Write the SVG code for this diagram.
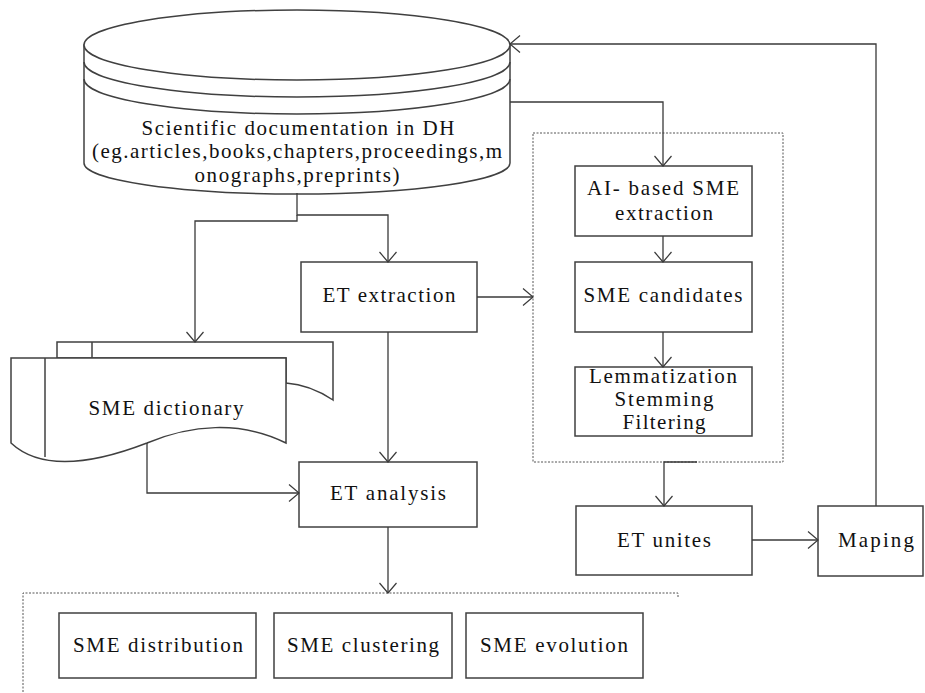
<svg xmlns="http://www.w3.org/2000/svg" width="925" height="693" viewBox="0 0 925 693">
<style>
.b{fill:#fff;stroke:#404040;stroke-width:1.5}
.s{fill:none;stroke:#404040;stroke-width:1.5}
.c{fill:none;stroke:#3a3a3a;stroke-width:1.3}
.d{fill:none;stroke:#555;stroke-width:1;stroke-dasharray:2,1.5}
text{font-family:"Liberation Serif","DejaVu Serif",serif;font-size:21px;fill:#111;text-anchor:middle}
</style>
<defs>
<marker id="a" viewBox="0 0 12 20" refX="11" refY="10" markerWidth="12" markerHeight="20" markerUnits="userSpaceOnUse" orient="auto">
<path d="M1,1.5 L11,10 L1,18.5" fill="none" stroke="#3a3a3a" stroke-width="1.2"/>
</marker>
</defs>
<rect width="925" height="693" fill="#fff"/>

<g id="group-bottom">
<path class="d" d="M678,597 V593 H23 V693"/>
</g>
<g id="group-right">
<rect class="d" x="533" y="133" width="250" height="329"/>
</g>

<g id="database">
<path class="b" d="M84,45 V163 A213,31 0 0 0 510,163 V45 Z"/>
<ellipse class="b" cx="297" cy="45" rx="213" ry="35"/>
<path class="s" d="M84,62 A213,35 0 0 0 510,62"/>
<path class="s" d="M84,79 A213,35 0 0 0 510,79"/>
<text x="298" y="135" textLength="313" lengthAdjust="spacing">Scientific documentation in DH</text>
<text x="297" y="158" textLength="410" lengthAdjust="spacing">(eg.articles,books,chapters,proceedings,m</text>
<text x="297" y="182" textLength="205" lengthAdjust="spacing">onographs,preprints)</text>
</g>

<g id="sme-dictionary">
<path class="b" d="M57,358 V342 H333 V400 C318,390 300,384 286,383 L286,358 Z"/>
<path class="s" d="M92,342 V358"/>
<path class="b" d="M11,358 H286 V443 C240,420 190,425 147,443 C90,465 40,470 11,443 Z"/>
<path class="s" d="M45,358 V457"/>
<text x="166" y="415" textLength="155" lengthAdjust="spacing">SME dictionary</text>
</g>

<g id="et-extraction">
<rect class="b" x="301" y="262" width="176" height="70"/>
<text x="389" y="302" textLength="133" lengthAdjust="spacing">ET extraction</text>
</g>

<g id="et-analysis">
<rect class="b" x="299" y="462" width="178" height="65"/>
<text x="388" y="500" textLength="116" lengthAdjust="spacing">ET analysis</text>
</g>

<g id="ai-extraction">
<rect class="b" x="575" y="166" width="177" height="70"/>
<text x="663" y="195" textLength="152" lengthAdjust="spacing">AI- based SME</text>
<text x="664" y="220" textLength="98" lengthAdjust="spacing">extraction</text>
</g>

<g id="sme-candidates">
<rect class="b" x="575" y="262" width="177" height="70"/>
<text x="663" y="302" textLength="159" lengthAdjust="spacing">SME candidates</text>
</g>

<g id="lemmatization">
<rect class="b" x="575" y="367" width="177" height="69"/>
<text x="663" y="383" textLength="148" lengthAdjust="spacing">Lemmatization</text>
<text x="664" y="406" textLength="99" lengthAdjust="spacing">Stemming</text>
<text x="664" y="429" textLength="83" lengthAdjust="spacing">Filtering</text>
</g>

<g id="et-unites">
<rect class="b" x="576" y="506" width="176" height="69"/>
<text x="664" y="547" textLength="94" lengthAdjust="spacing">ET unites</text>
</g>

<g id="maping">
<rect class="b" x="818" y="506" width="105" height="70"/>
<text x="876" y="547" textLength="76" lengthAdjust="spacing">Maping</text>
</g>

<g id="sme-distribution">
<rect class="b" x="59" y="613" width="197" height="65"/>
<text x="158" y="652" textLength="170" lengthAdjust="spacing">SME distribution</text>
</g>
<g id="sme-clustering">
<rect class="b" x="274" y="613" width="178" height="65"/>
<text x="363" y="652" textLength="152" lengthAdjust="spacing">SME clustering</text>
</g>
<g id="sme-evolution">
<rect class="b" x="466" y="613" width="177" height="65"/>
<text x="554" y="652" textLength="148" lengthAdjust="spacing">SME evolution</text>
</g>

<g id="connectors">
<path class="c" d="M297,193 V215 H388 V262" marker-end="url(#a)"/>
<path class="c" d="M297,215 V221 H195 V342" marker-end="url(#a)"/>
<path class="c" d="M477,297 H533" marker-end="url(#a)"/>
<path class="c" d="M388,332 V462" marker-end="url(#a)"/>
<path class="c" d="M147,443 V493 H299" marker-end="url(#a)"/>
<path class="c" d="M388,527 V593" marker-end="url(#a)"/>
<path class="c" d="M510,102 H663 V166" marker-end="url(#a)"/>
<path class="c" d="M663,236 V262" marker-end="url(#a)"/>
<path class="c" d="M663,332 V367" marker-end="url(#a)"/>
<path class="c" d="M697,462 H664 V506" marker-end="url(#a)"/>
<path class="c" d="M752,540 H818" marker-end="url(#a)"/>
<path class="c" d="M876,506 V44 H510" marker-end="url(#a)"/>
</g>
</svg>
